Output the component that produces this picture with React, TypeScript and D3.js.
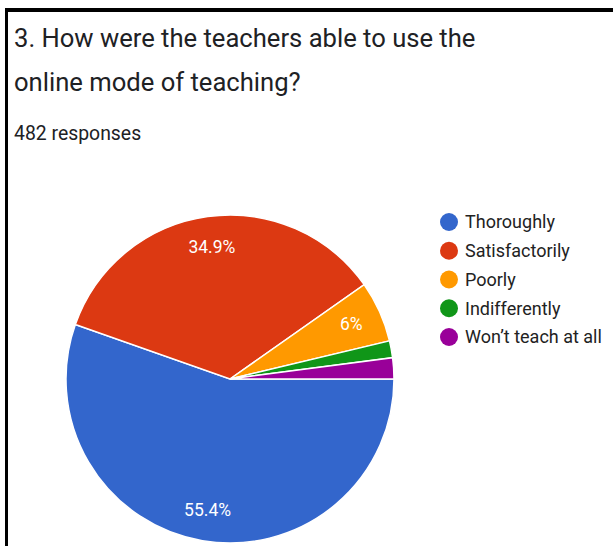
import React from "react";
import * as d3 from "d3";

// survey answers (482 responses)
const categories = ["Thoroughly", "Satisfactorily", "Poorly", "Indifferently", "Won\u2019t teach at all"];
const counts = [267, 168, 29, 8, 10];
const colors = ["#3366cc", "#dc3912", "#ff9900", "#109618", "#990099"];
const titleLines = ["3. How were the teachers able to use the", "online mode of teaching?"];
const subtitle = "482 responses";

const width = 613;
const height = 546;
const cx = 230;
const cy = 379;
const radius = 164;

function App() {
  const total = d3.sum(counts);
  // the original pie begins at 3 o'clock
  const pie = d3.pie<number>().sort(null).startAngle(Math.PI / 2).endAngle(Math.PI / 2 + 2 * Math.PI);
  const arcs = pie(counts);
  const arc = d3.arc<d3.PieArcDatum<number>>().innerRadius(0).outerRadius(radius);
  const labelArc = d3.arc<d3.PieArcDatum<number>>().innerRadius(133).outerRadius(133);
  const fmt = (v: number) => {
    const p = (v / total) * 100;
    return d3.format(".1f")(p).replace(/\.0$/, "") + "%";
  };
  const legendY = d3.scalePoint<string>().domain(categories).range([222, 337]);

  return (
    <svg width={width} height={height} style={{ position: "absolute", left: 0, top: 0, background: "#fff" }}
      fontFamily="Roboto, Arial, sans-serif">
      <rect x={5} y={8} width={width - 5} height={4} fill="#000" />
      <rect x={5} y={8} width={3} height={height - 8} fill="#000" />

      {titleLines.map((t, i) => (
        <text key={i} x={14} y={47 + i * 44} fontSize={25.6} fill="#202124">{t}</text>
      ))}
      <text x={14} y={140} fontSize={19.4} fill="#202124">{subtitle}</text>

      <g transform={`translate(${cx},${cy})`}>
        {arcs.map((a, i) => (
          <path key={i} d={arc(a) || ""} fill={colors[i]} stroke="#fff" strokeWidth={1.5} />
        ))}
        {arcs.map((a, i) => {
          if (a.data / total < 0.05) return null;
          const [x, y] = labelArc.centroid(a);
          return (
            <text key={"l" + i} x={x} y={y} dy="0.35em" textAnchor="middle" fontSize={17.5} fill="#fff">
              {fmt(a.data)}
            </text>
          );
        })}
      </g>

      {categories.map((c, i) => (
        <g key={c} transform={`translate(0,${legendY(c)})`}>
          <circle cx={449} cy={0} r={9} fill={colors[i]} />
          <text x={465} y={0} dy="0.35em" fontSize={18} fill="#222">{c}</text>
        </g>
      ))}
    </svg>
  );
}

export default App;
